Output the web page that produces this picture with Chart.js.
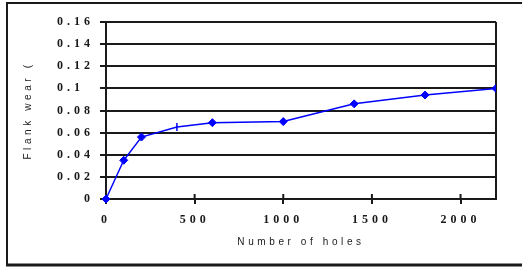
<!DOCTYPE html>
<html>
<head>
<meta charset="utf-8">
<script src="https://cdn.jsdelivr.net/npm/chart.js@4/dist/chart.umd.min.js"></script>
<style>
  html, body { margin: 0; padding: 0; background: #fff; }
  #wrap { width: 522px; height: 268px; }
</style>
</head>
<body>
<div id="wrap"><canvas id="c" width="522" height="268"></canvas></div>
<script>
// dados
const holes = [0, 100, 200, 400, 600, 1000, 1400, 1800, 2200];
const flankWear = [0, 0.035, 0.056, 0.065, 0.069, 0.07, 0.086, 0.094, 0.1];
const markerStyles = ['rectRot', 'rectRot', 'rectRot', 'line', 'rectRot', 'rectRot', 'rectRot', 'rectRot', 'rectRot'];
const xTickValues = [0, 500, 1000, 1500, 2000];
const yTickLabels = ['0', '0.02', '0.04', '0.06', '0.08', '0.1', '0.12', '0.14', '0.16'];
const xTitle = 'Number of holes';
const yTitle = 'Flank wear (';

const INK = '#1a1a1a';
const BLUE = '#0000ff';
const tickFont = { family: 'Liberation Serif', size: 12, weight: 'bold' };
const titleFont = { family: 'Liberation Sans', size: 10 };

// espaçamento de letras: rótulos 4px, títulos 3.6px
function spaced(fn, sp) {
  return function (...args) {
    const ctx = this.ctx, old = ctx.letterSpacing;
    ctx.letterSpacing = sp;
    fn.apply(this, args);
    ctx.letterSpacing = old;
  };
}

// moldura externa, borda direita da área e marcas do eixo x
const framePlugin = {
  id: 'frame',
  afterUpdate(chart) {
    Object.values(chart.scales).forEach(s => {
      if (!s._patched) { s.drawTitle = spaced(s.drawTitle, '3.6px'); s._patched = true; }
    });
  },
  beforeDraw(chart) {
    const ctx = chart.ctx;
    ctx.letterSpacing = '4px';
    ctx.save();
    ctx.strokeStyle = INK;
    ctx.lineWidth = 2;
    ctx.beginPath();
    ctx.moveTo(600, 3); ctx.lineTo(7, 3); ctx.lineTo(7, 265);
    ctx.stroke();
    ctx.lineWidth = 3;
    ctx.beginPath();
    ctx.moveTo(6, 265); ctx.lineTo(600, 265);
    ctx.stroke();
    ctx.restore();
  },
  beforeDatasetsDraw(chart) {
    const { ctx, chartArea: a, scales } = chart;
    ctx.save();
    ctx.strokeStyle = INK;
    ctx.lineWidth = 2;
    ctx.beginPath();
    ctx.moveTo(a.right, a.top); ctx.lineTo(a.right, a.bottom);
    scales.x.ticks.forEach(t => {
      const px = scales.x.getPixelForValue(t.value);
      ctx.moveTo(px, a.bottom - 5); ctx.lineTo(px, a.bottom);
    });
    ctx.stroke();
    ctx.restore();
  },
};

new Chart(document.getElementById('c'), {
  type: 'line',
  data: {
    datasets: [{
      data: holes.map((h, i) => ({ x: h, y: flankWear[i] })),
      borderColor: BLUE,
      backgroundColor: BLUE,
      borderWidth: 1.5,
      pointStyle: markerStyles,
      pointRotation: markerStyles.map(s => s === 'line' ? 90 : 0),
      pointRadius: 4,
      pointBorderWidth: markerStyles.map(s => s === 'line' ? 1.5 : 1),
      pointBorderColor: BLUE,
      pointBackgroundColor: BLUE,
      tension: 0,
      clip: { left: 6, top: 6, right: 0, bottom: 6 },
    }],
  },
  options: {
    responsive: false,
    devicePixelRatio: 1,
    animation: false,
    layout: { padding: { left: 0, right: 26, top: 22, bottom: 0 } },
    plugins: { legend: { display: false }, tooltip: { enabled: false } },
    scales: {
      x: {
        type: 'linear', min: 0, max: 2200,
        afterBuildTicks: s => { s.ticks = xTickValues.map(v => ({ value: v })); },
        afterFit: s => { s.height = 69; },
        grid: { display: true, drawOnChartArea: false, drawTicks: true, tickLength: 5, color: INK, lineWidth: 2, z: -1 },
        border: { display: true, color: INK, width: 2 },
        ticks: { color: INK, font: tickFont, padding: 9, maxRotation: 0, callback: v => String(v) },
        title: { display: true, text: xTitle, color: INK, font: titleFont, padding: { top: 0, bottom: 20 } },
      },
      y: {
        min: 0, max: 0.16,
        afterBuildTicks: s => { s.ticks = yTickLabels.map(l => ({ value: Number(l) })); },
        afterFit: s => { s.width = 106; },
        grid: { color: INK, lineWidth: 2, drawTicks: true, tickLength: 6, z: -1 },
        border: { display: true, color: INK, width: 2 },
        ticks: {
          color: INK, font: tickFont, padding: 6,
          callback: (v, i) => yTickLabels[i] === '0.1' ? '0.1\u2007' : yTickLabels[i],
        },
        title: { display: true, text: yTitle, color: INK, font: titleFont, padding: { top: 22, bottom: 0 } },
      },
    },
  },
  plugins: [framePlugin],
});
</script>
</body>
</html>
